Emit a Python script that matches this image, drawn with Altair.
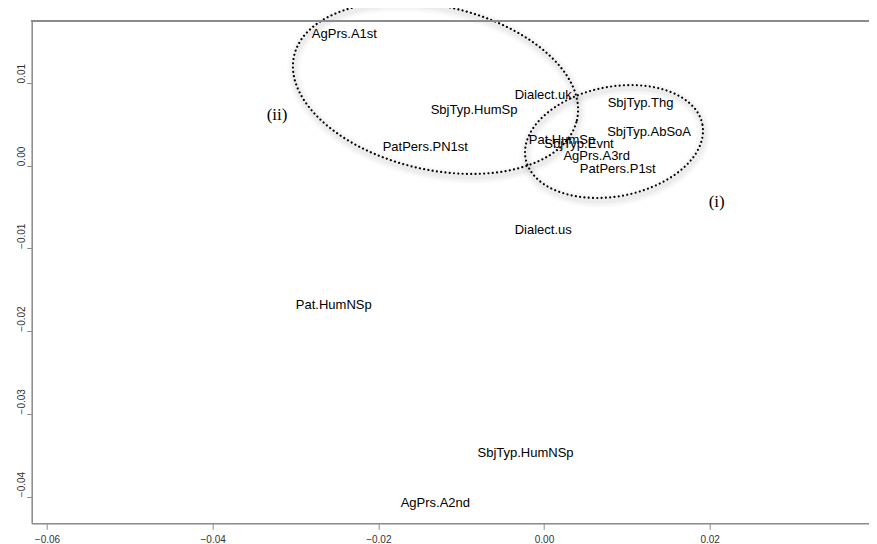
import numpy as np
import pandas as pd
import altair as alt

# ---- data ----
labels = ["AgPrs.A1st", "Dialect.uk", "SbjTyp.HumSp", "PatPers.PN1st", "Pat.HumSp",
          "SbjTyp.Evnt", "SbjTyp.Thg", "SbjTyp.AbSoA", "AgPrs.A3rd", "PatPers.P1st",
          "Dialect.us", "Pat.HumNSp", "SbjTyp.HumNSp", "AgPrs.A2nd"]
xs = [-0.0241, -0.0001, -0.00845, -0.01433, 0.00217,
      0.00423, 0.01165, 0.01268, 0.00636, 0.00891,
      -0.0001, -0.02538, -0.00223, -0.01312]
ys = [0.01588, 0.00854, 0.00673, 0.0023, 0.00311,
      0.00262, 0.00754, 0.00411, 0.00117, -0.00044,
      -0.00777, -0.01683, -0.03476, -0.0408]

ann_text = ["(i)", "(ii)"]
ann_x = [0.02085, -0.03223]
ann_y = [-0.00435, 0.00613]

# ellipses: name, centre x, centre y, semi-major, semi-minor, angle (deg)
ell_names = ["i", "ii"]
ell_cx = [0.00845, -0.0131]
ell_cy = [0.00292, 0.00939]
ell_a = [0.01087, 0.01751]
ell_b = [0.00662, 0.00988]
ell_ang = [11.0, -12.8]

x_ticks = [-0.06, -0.04, -0.02, 0.0, 0.02, 0.04]
y_ticks = [-0.04, -0.03, -0.02, -0.01, 0.0, 0.01]

# plot area: left edge at x=-0.06185, 8283 px per unit; svg limited to 861 px wide
PAD_L, PAD_T = 23.7, 13
SVG_W, SVG_H = 861, 536
W = SVG_W - PAD_L
H = 502.3
X_DOMAIN = [-0.06185, -0.06185 + W / 8283.0]
Y_DOMAIN = [-0.043215, 0.017486]


def ellipse_df(shift_x=0.0, shift_y=0.0, n=260):
    rows = []
    for nm, cx, cy, a, b, ang in zip(ell_names, ell_cx, ell_cy, ell_a, ell_b, ell_ang):
        t = np.linspace(0, 2 * np.pi, n)
        r = np.radians(ang)
        ex = cx + shift_x + a * np.cos(t) * np.cos(r) - b * np.sin(t) * np.sin(r)
        ey = cy + shift_y + a * np.cos(t) * np.sin(r) + b * np.sin(t) * np.cos(r)
        for i, (px, py) in enumerate(zip(ex, ey)):
            rows.append({"e": nm, "i": i, "x": px, "y": py})
    return pd.DataFrame(rows)


pts = pd.DataFrame({"label": labels, "x": xs, "y": ys})
ann = pd.DataFrame({"label": ann_text, "x": ann_x, "y": ann_y})
ell = ellipse_df()
shadow = ellipse_df(0.00012, -0.00036)

AX_COL = "#8c8c8c"


def xenc():
    return alt.X("x:Q", title=None,
                 scale=alt.Scale(domain=X_DOMAIN, nice=False, zero=False),
                 axis=alt.Axis(values=x_ticks, format=".2f", grid=False,
                               domainColor=AX_COL, domainWidth=1.5,
                               tickColor=AX_COL, tickSize=6, tickWidth=1,
                               labelFont="Liberation Sans", labelFontSize=10,
                               labelColor="#333333", labelPadding=5,
                               labelOverlap=False, labelFlush=False))


def yenc():
    return alt.Y("y:Q", title=None,
                 scale=alt.Scale(domain=Y_DOMAIN, nice=False, zero=False),
                 axis=alt.Axis(values=y_ticks, format=".2f", grid=False,
                               domainColor=AX_COL, domainWidth=1.5,
                               tickColor=AX_COL, tickSize=5, tickWidth=1,
                               labelFont="Liberation Sans", labelFontSize=10,
                               labelColor="#333333", labelPadding=2,
                               labelAngle=270, labelAlign="left",
                               labelBaseline="alphabetic",
                               labelOverlap=False, labelFlush=False))


shadow_layers = [
    alt.Chart(shadow).mark_line(color="#000000", opacity=op, strokeWidth=sw)
    .encode(x=xenc(), y=yenc(), detail="e:N", order="i:Q")
    for sw, op in [(13, 0.02), (9, 0.025), (5, 0.03)]
]

ell_layer = alt.Chart(ell).mark_line(
    color="#000000", strokeWidth=2.2, strokeDash=[0.01, 4.3], strokeCap="round"
).encode(x=xenc(), y=yenc(), detail="e:N", order="i:Q")

text_layer = alt.Chart(pts).mark_text(
    font="Liberation Sans", fontSize=13, color="#000000",
    align="center", baseline="middle"
).encode(x=xenc(), y=yenc(), text="label:N")

ann_layer = alt.Chart(ann).mark_text(
    font="Liberation Serif", fontSize=17, color="#000000",
    align="center", baseline="middle"
).encode(x=xenc(), y=yenc(), text="label:N")

top_line = alt.Chart(pts).mark_rule(color=AX_COL, strokeWidth=1.5).encode(
    y=alt.value(0), x=alt.value(0), x2=alt.value(W)
)

chart = alt.layer(*shadow_layers, ell_layer, text_layer, ann_layer, top_line).properties(
    width=W, height=H,
    padding={"left": PAD_L, "top": PAD_T, "right": 0, "bottom": SVG_H - PAD_T - H},
    autosize=alt.AutoSizeParams(type="none"),
).configure_view(stroke=None).configure(background="white")

chart.save("out.html", embed_options={"renderer": "svg", "actions": False})
